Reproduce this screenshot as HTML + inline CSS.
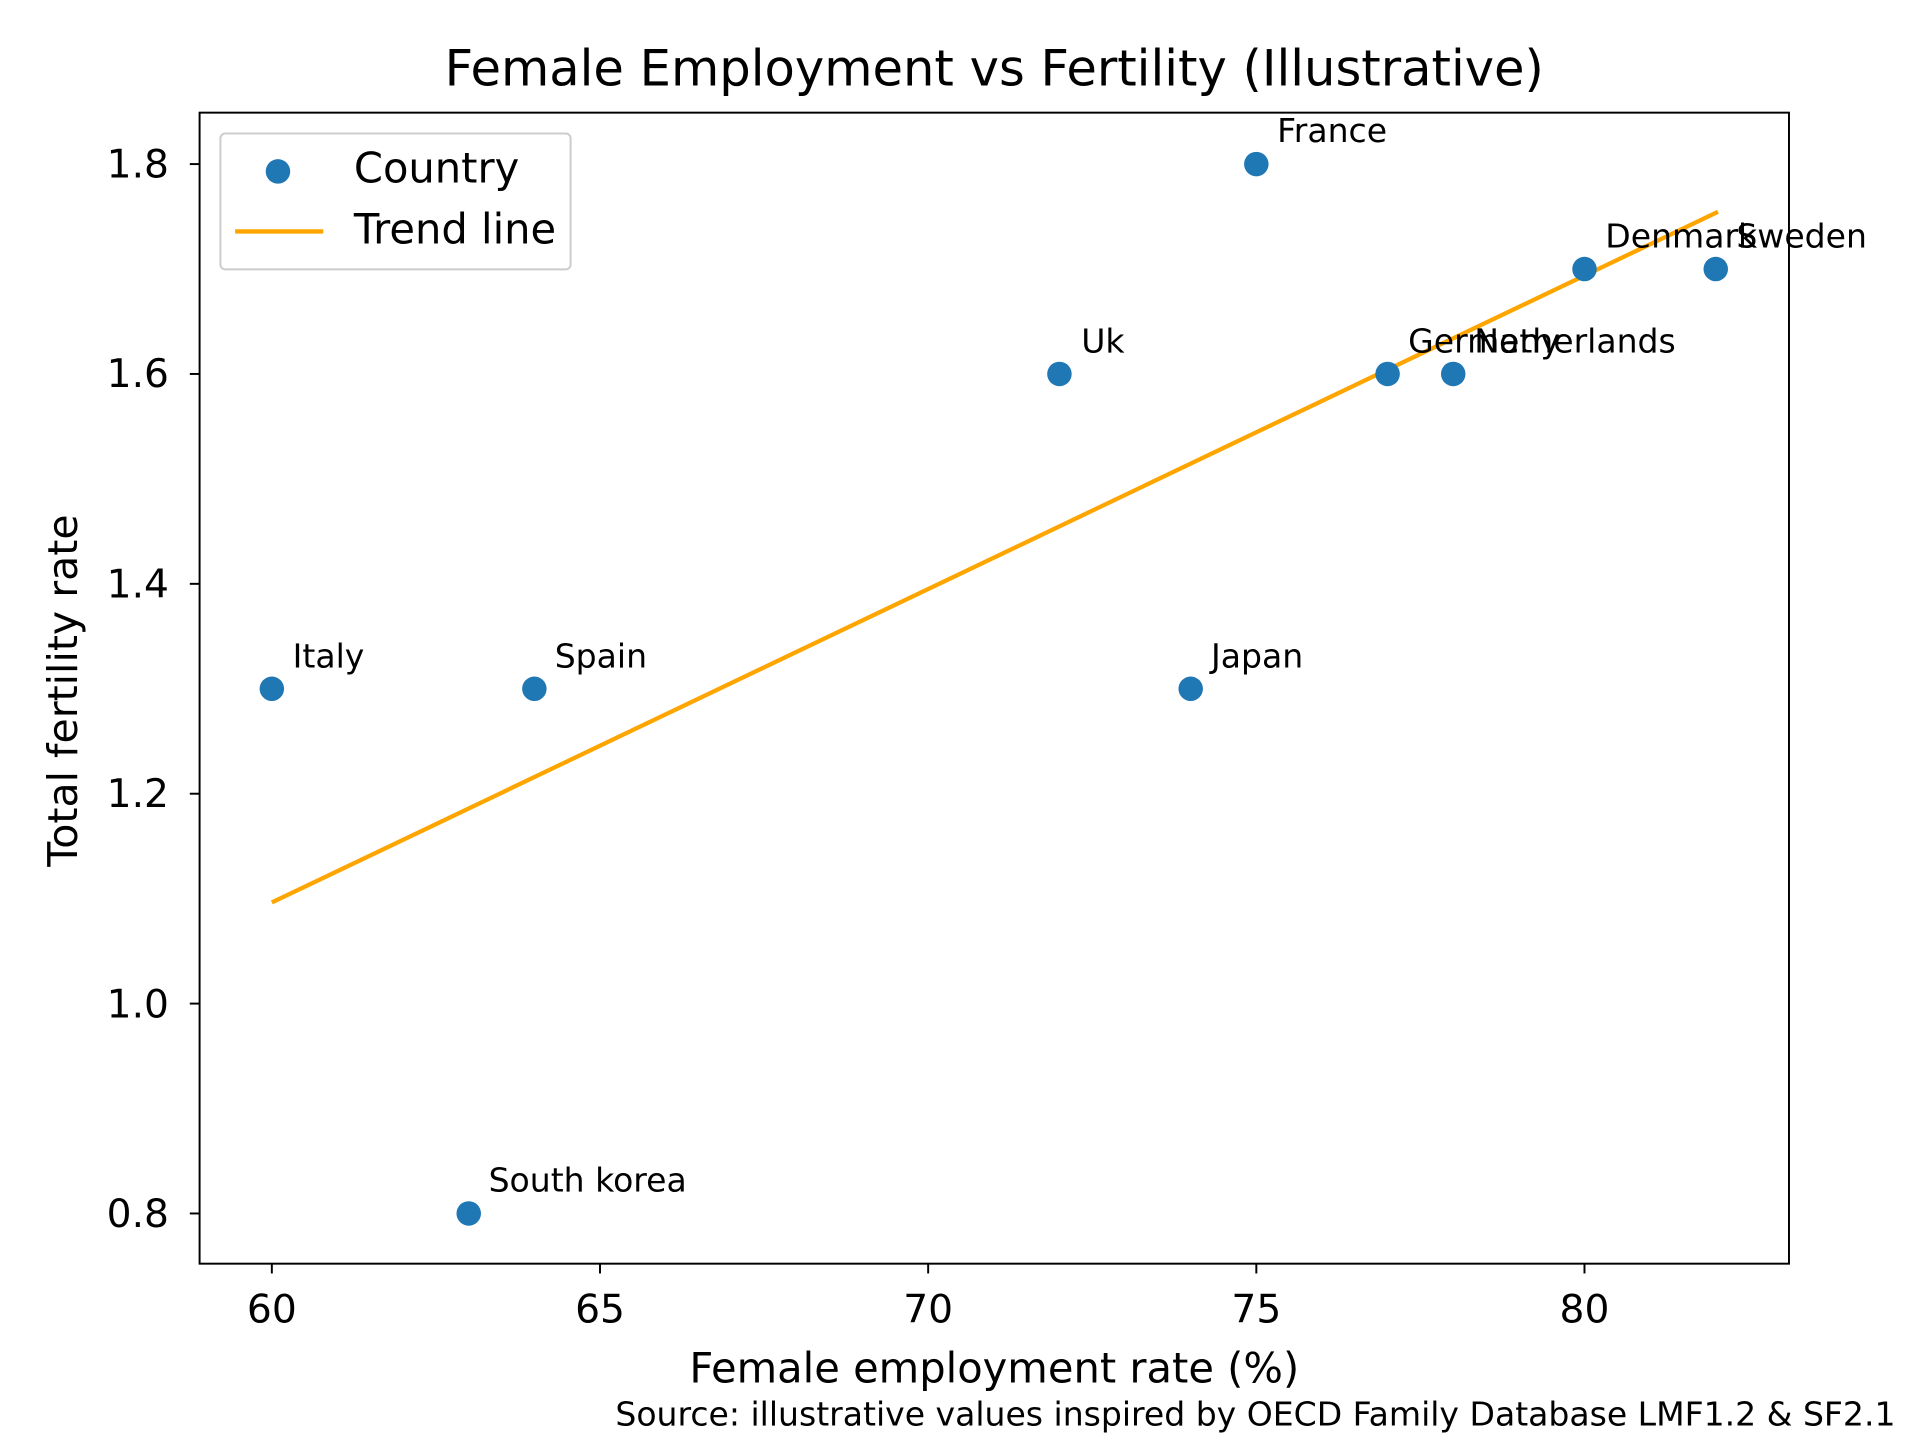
<!DOCTYPE html>
<html><head><meta charset="utf-8"><style>
html,body{margin:0;padding:0;background:#fff;}
svg{display:block;font-family:"DejaVu Sans","Liberation Sans",sans-serif;}
</style></head><body>
<svg width="1920" height="1440" viewBox="0 0 1568 1176" preserveAspectRatio="none" xmlns="http://www.w3.org/2000/svg">
<rect width="1568" height="1176" fill="#fff"/>
<text x="812" y="70" font-size="40.5" text-anchor="middle">Female Employment vs Fertility (Illustrative)</text>
<line x1="222" y1="737" x2="1403" y2="173" stroke="#ffa500" stroke-width="3.5"/>
<g fill="#1f77b4">
<circle cx="222" cy="562.5" r="10"/>
<circle cx="436.4" cy="562.5" r="10"/>
<circle cx="382.8" cy="991" r="10"/>
<circle cx="865.2" cy="305.4" r="10"/>
<circle cx="972.4" cy="562.5" r="10"/>
<circle cx="1026" cy="134" r="10"/>
<circle cx="1133.2" cy="305.4" r="10"/>
<circle cx="1186.8" cy="305.4" r="10"/>
<circle cx="1294" cy="219.7" r="10"/>
<circle cx="1401.2" cy="219.7" r="10"/>
</g>
<g font-size="27">
<text x="239" y="545">Italy</text>
<text x="453" y="545">Spain</text>
<text x="399" y="973">South korea</text>
<text x="883" y="288">Uk</text>
<text x="989" y="545">Japan</text>
<text x="1043" y="116">France</text>
<text x="1150" y="288">Germany</text>
<text x="1204" y="288">Netherlands</text>
<text x="1311" y="202">Denmark</text>
<text x="1418" y="202">Sweden</text>
</g>
<rect x="163" y="92" width="1298" height="940" fill="none" stroke="#000" stroke-width="1.6"/>
<g stroke="#000" stroke-width="1.6">
<line x1="222" y1="1032" x2="222" y2="1040"/>
<line x1="490" y1="1032" x2="490" y2="1040"/>
<line x1="758" y1="1032" x2="758" y2="1040"/>
<line x1="1026" y1="1032" x2="1026" y2="1040"/>
<line x1="1294" y1="1032" x2="1294" y2="1040"/>
<line x1="155" y1="991" x2="163" y2="991"/>
<line x1="155" y1="819.6" x2="163" y2="819.6"/>
<line x1="155" y1="648.2" x2="163" y2="648.2"/>
<line x1="155" y1="476.8" x2="163" y2="476.8"/>
<line x1="155" y1="305.4" x2="163" y2="305.4"/>
<line x1="155" y1="134" x2="163" y2="134"/>
</g>
<g font-size="32" text-anchor="middle">
<text x="222" y="1080">60</text>
<text x="490" y="1080">65</text>
<text x="758" y="1080">70</text>
<text x="1026" y="1080">75</text>
<text x="1294" y="1080">80</text>
</g>
<g font-size="32" text-anchor="end">
<text x="138" y="1002">0.8</text>
<text x="138" y="831">1.0</text>
<text x="138" y="659">1.2</text>
<text x="138" y="488">1.4</text>
<text x="138" y="316">1.6</text>
<text x="138" y="145">1.8</text>
</g>
<text x="812" y="1129" font-size="34" text-anchor="middle">Female employment rate (%)</text>
<text transform="translate(63,564) rotate(-90)" font-size="33.5" text-anchor="middle">Total fertility rate</text>
<text x="1548" y="1164" font-size="27" text-anchor="end">Source: illustrative values inspired by OECD Family Database LMF1.2 &amp; SF2.1</text>
<rect x="180" y="109" width="286" height="111" rx="4" fill="#fff" stroke="#ccc" stroke-width="1.6"/>
<circle cx="227" cy="140" r="10" fill="#1f77b4"/>
<text x="289" y="149" font-size="34">Country</text>
<line x1="192" y1="189" x2="264" y2="189" stroke="#ffa500" stroke-width="3.5"/>
<text x="289" y="199" font-size="34">Trend line</text>
</svg>
</body></html>
